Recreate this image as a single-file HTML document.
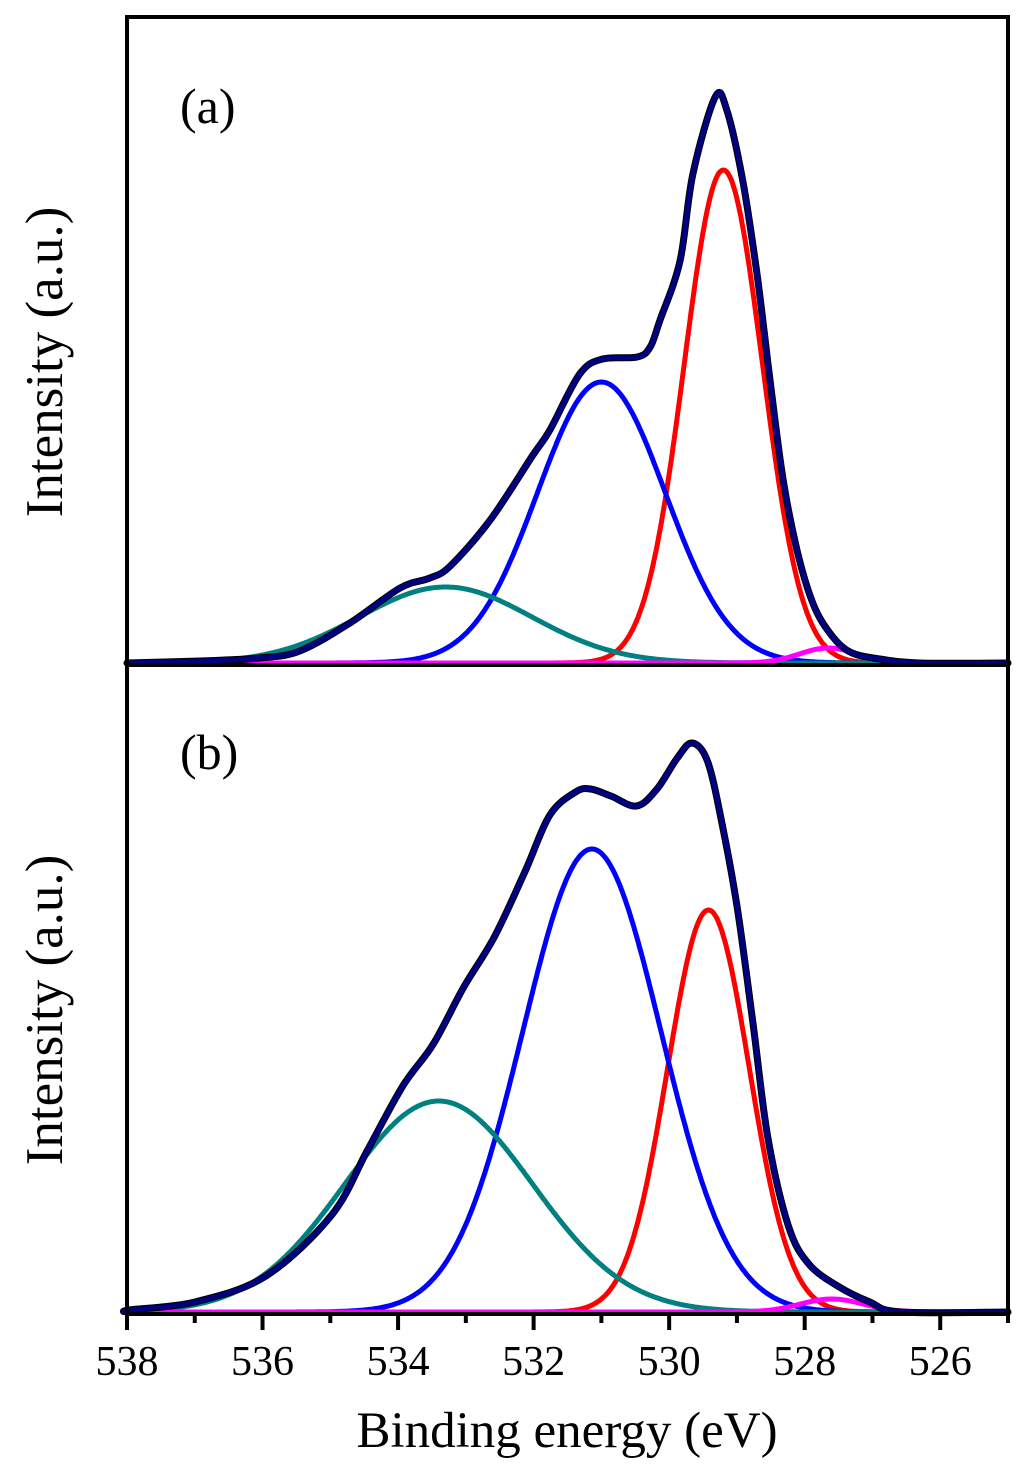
<!DOCTYPE html>
<html><head><meta charset="utf-8"><style>
html,body{margin:0;padding:0;background:#fff;}
svg text{font-family:"Liberation Serif",serif;fill:#000;}
</style></head><body>
<svg id="chart" width="1024" height="1467" viewBox="0 0 1024 1467" xmlns="http://www.w3.org/2000/svg">
<g id="plots"></g>
<rect x="127" y="17" width="881" height="1297" fill="none" stroke="#000" stroke-width="4"/>
<line x1="127" y1="665" x2="1008" y2="665" stroke="#000" stroke-width="4"/>
<g id="ticks"></g>
<text x="180" y="123" font-size="50">(a)</text>
<text x="180" y="769" font-size="50">(b)</text>
<text transform="translate(62,362) rotate(-90)" text-anchor="middle" font-size="53">Intensity (a.u.)</text>
<text transform="translate(62,1010) rotate(-90)" text-anchor="middle" font-size="53">Intensity (a.u.)</text>
<text x="567" y="1447" text-anchor="middle" font-size="51">Binding energy (eV)</text>
</svg>
<script>
// Fitted components: center (eV), height, FWHM (eV)
const colors = ["#ff0000","#0000ff","#008080","#ff00ff"];
const aCenters = [529.2, 531.0, 533.3, 527.65];
const aHeights = [493, 281, 76, 15];
const aFwhm = [1.36, 2.22, 3.0, 1.0];
const bCenters = [529.42, 531.14, 533.4, 527.6];
const bHeights = [402, 463, 211, 13];
const bFwhm = [1.42, 2.4, 3.26, 1.1];
// Measured spectra (eV, intensity)
const aDataE = [538, 536.92, 536.04, 535.45, 534.71, 533.97, 533.53, 533.23, 532.64, 532.02, 531.76, 531.32, 530.98, 530.47, 530.28, 530.14, 529.84, 529.65, 529.32, 529.15, 528.91, 528.70, 528.51, 528.32, 528.11, 527.88, 527.63, 527.33, 526.89, 526.30, 525];
const aDataI = [0, 2, 5, 12, 40, 75, 85, 97, 143, 207, 233, 289, 304, 306, 316, 342, 402, 489, 566, 553, 481, 387, 282, 184, 112, 60, 30, 11, 4, 0, 0];
const bDataE = [538, 537.97, 537, 535.95, 534.98, 534.45, 533.93, 533.48, 533.03, 532.58, 532.13, 531.76, 531.38, 531.16, 530.86, 530.48, 530.18, 529.88, 529.66, 529.43, 529.21, 528.99, 528.76, 528.54, 528.24, 527.94, 527.49, 527.04, 526.59, 525];
const bDataI = [0, 2, 10, 36, 97, 162, 226, 268, 325, 375, 440, 497, 520, 523, 516, 506, 523, 554, 569, 550, 485, 402, 287, 173, 86, 48, 25, 10, 0, 0];
const xTicks = [538, 536, 534, 532, 530, 528, 526];

const NS = "http://www.w3.org/2000/svg";
const X0 = 127, X1 = 1008, E0 = 538, E1 = 525;
function xs(e){ return X0 + (E0 - e) * (X1 - X0) / (E0 - E1); }
function g(e, c, h, w){ const s = w / 2.3548; return h * Math.exp(-0.5 * ((e - c) / s) ** 2); }
const plots = document.getElementById("plots");
function path(d, col, sw, name){
  const p = document.createElementNS(NS, "path");
  p.setAttribute("d", d); p.setAttribute("fill", "none");
  p.setAttribute("stroke", col); p.setAttribute("stroke-width", sw);
  p.setAttribute("stroke-linejoin", "round");
  p.setAttribute("stroke-linecap", "round");
  
  
  plots.appendChild(p);
}
function smooth(pts){
  let d = "M" + pts[0][0].toFixed(1) + "," + pts[0][1].toFixed(1);
  for (let i = 0; i < pts.length - 1; i++){
    const p0 = pts[Math.max(0, i - 1)], p1 = pts[i], p2 = pts[i + 1], p3 = pts[Math.min(pts.length - 1, i + 2)];
    const c1 = [p1[0] + (p2[0] - p0[0]) / 6, p1[1] + (p2[1] - p0[1]) / 6];
    const c2 = [p2[0] - (p3[0] - p1[0]) / 6, p2[1] - (p3[1] - p1[1]) / 6];
    d += "C" + c1[0].toFixed(1) + "," + c1[1].toFixed(1) + " " + c2[0].toFixed(1) + "," + c2[1].toFixed(1) + " " + p2[0].toFixed(1) + "," + p2[1].toFixed(1);
  }
  return d;
}
function panel(base, C, H, W, DE, DI, tag){
  const N = 600;
  for (let k = 0; k < C.length; k++){
    let d = "";
    for (let i = 0; i <= N; i++){
      const e = E0 - (E0 - E1) * i / N;
      d += (i ? "L" : "M") + xs(e).toFixed(1) + "," + (base - g(e, C[k], H[k], W[k])).toFixed(1);
    }
    path(d, colors[k], 5, tag + "-component-" + (k + 1));
  }
  const pts = DE.map((e, i) => [xs(e), base - DI[i]]);
  const d = smooth(pts);
  path(d, "#000", 7, tag + "-raw-data");
  path(d, "#000080", 5, tag + "-envelope-fit");
}
panel(663, aCenters, aHeights, aFwhm, aDataE, aDataI, "panel-a");
const bl = document.createElementNS(NS, "line");
bl.setAttribute("x1", X0); bl.setAttribute("x2", X1); bl.setAttribute("y1", 1312); bl.setAttribute("y2", 1312);
bl.setAttribute("stroke", "#808000"); bl.setAttribute("stroke-width", 3);


plots.appendChild(bl);
panel(1312, bCenters, bHeights, bFwhm, bDataE, bDataI, "panel-b");

const ticks = document.getElementById("ticks");
for (let e = 538; e >= 525; e--){
  const l = document.createElementNS(NS, "line");
  const major = e % 2 === 0;
  l.setAttribute("x1", xs(e)); l.setAttribute("x2", xs(e));
  l.setAttribute("y1", 1314); l.setAttribute("y2", major ? 1330 : 1323);
  l.setAttribute("stroke", "#000"); l.setAttribute("stroke-width", 4);
  
  
  ticks.appendChild(l);
}
xTicks.forEach(v => {
  const t = document.createElementNS(NS, "text");
  t.setAttribute("x", xs(v)); t.setAttribute("y", 1375);
  t.setAttribute("text-anchor", "middle"); t.setAttribute("font-size", "42");
  t.textContent = v;
  
  
  ticks.appendChild(t);
});
</script>
</body></html>
